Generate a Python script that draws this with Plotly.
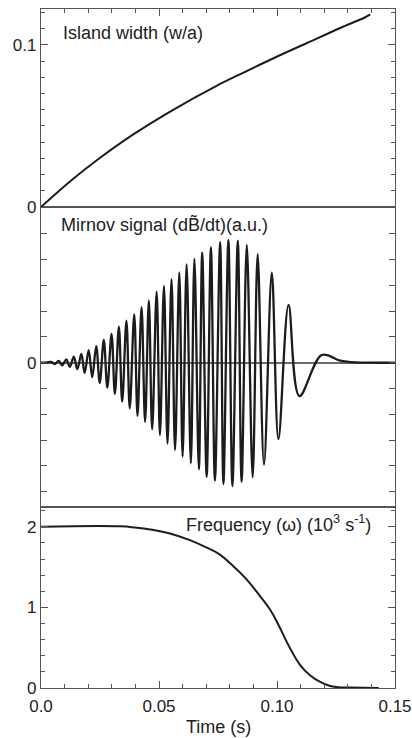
import plotly.graph_objects as go

# ---------------- data ----------------
# Island width (w/a) vs time (s)
island_t = [0.0, 0.0129, 0.0249, 0.0391, 0.0560, 0.0744, 0.0843, 0.0985, 0.1127, 0.1268, 0.1374, 0.1395]
island_w = [0.0, 0.0165, 0.0302, 0.0448, 0.0600, 0.0748, 0.0819, 0.0918, 0.1012, 0.1105, 0.1171, 0.1189]

# Mirnov signal extrema (a.u.) vs time (s)
mirnov_t = [0.0, 0.0024, 0.0043, 0.0058, 0.0075, 0.0090, 0.0107, 0.0122, 0.0139, 0.0154,
            0.0171, 0.0185, 0.0202, 0.0217, 0.0234, 0.0249, 0.0266, 0.0281, 0.0299, 0.0313,
            0.0330, 0.0344, 0.0362, 0.0376, 0.0395, 0.0409, 0.0426, 0.0441, 0.0457, 0.0471,
            0.0490, 0.0504, 0.0521, 0.0536, 0.0553, 0.0568, 0.0586, 0.0600, 0.0617, 0.0635,
            0.0650, 0.0669, 0.0683, 0.0702, 0.0720, 0.0737, 0.0759, 0.0773, 0.0794, 0.0811,
            0.0834, 0.0850, 0.0872, 0.0897, 0.0918, 0.0945, 0.0978, 0.1006, 0.1049, 0.1095,
            0.1190, 0.1268, 0.1332, 0.1400, 0.1500]
mirnov_v = [0.0, 0.01, 0.03, -0.05, 0.07, -0.10, 0.13, -0.16, 0.23, -0.25,
            0.34, -0.40, 0.49, -0.56, 0.64, -0.78, 0.88, -0.96, 1.12, -1.21,
            1.40, -1.51, 1.63, -1.77, 1.87, -2.06, 2.15, -2.29, 2.40, -2.58,
            2.75, -2.80, 2.97, -3.13, 3.24, -3.38, 3.50, -3.64, 3.81, -3.90,
            4.02, -4.13, 4.26, -4.42, 4.47, -4.57, 4.67, -4.70, 4.76, -4.78,
            4.73, -4.61, 4.56, -4.44, 4.20, -3.95, 3.49, -2.96, 2.24, -1.29,
            0.30, 0.08, 0.01, 0.0, 0.0]

# Frequency (10^3 s^-1) vs time (s)
freq_t = [0.0, 0.0335, 0.0400, 0.0462, 0.0546, 0.0631, 0.0700, 0.0758, 0.0815, 0.0872,
          0.0928, 0.0971, 0.1006, 0.1034, 0.1063, 0.1098, 0.1141, 0.1183, 0.1225, 0.1260,
          0.1310, 0.1431]
freq_v = [2.0, 2.005, 1.99, 1.967, 1.917, 1.835, 1.745, 1.655, 1.51, 1.345,
          1.14, 0.97, 0.785, 0.615, 0.452, 0.284, 0.155, 0.075, 0.024, 0.010,
          0.005, 0.0]

x_tickvals = [0.0, 0.05, 0.10, 0.15]
x_ticktext = ["0.0", "0.05", "0.10", "0.15"]
mirnov_tickvals = [-5, -4, -3, -2, -1, 0, 1, 2, 3, 4, 5]
mirnov_ticktext = ["", "", "", "", "", "0", "", "", "", "", ""]

# ---------------- style ----------------
FONT = "Liberation Sans, Arial, sans-serif"
LINE_C = "#1c1c1c"
FRAME_C = "#555555"
TXT_C = "#222222"

fig = go.Figure()
fig.add_trace(go.Scatter(x=island_t, y=island_w, mode="lines", xaxis="x3", yaxis="y3",
                         line=dict(color=LINE_C, width=2, shape="spline", smoothing=1.0),
                         showlegend=False, hoverinfo="skip"))
fig.add_trace(go.Scatter(x=mirnov_t, y=mirnov_v, mode="lines", xaxis="x2", yaxis="y2",
                         line=dict(color=LINE_C, width=2.3, shape="spline", smoothing=1.0),
                         showlegend=False, hoverinfo="skip"))
fig.add_trace(go.Scatter(x=freq_t, y=freq_v, mode="lines", xaxis="x", yaxis="y",
                         line=dict(color=LINE_C, width=2, shape="spline", smoothing=1.2),
                         showlegend=False, hoverinfo="skip"))

d_bot = (0.0, 0.2669)
d_mid = (0.2669, 0.7084)
d_top = (0.7084, 1.0)

common_x = dict(range=[0, 0.15], showline=True, linecolor=FRAME_C, linewidth=1.3,
                mirror=True, showgrid=False, zeroline=False, automargin=False)
tickfont = dict(family=FONT, size=17, color=TXT_C)

fig.update_layout(
    template="none",
    width=412, height=738,
    margin=dict(l=41.33, r=17.33, t=9, b=50.1, autoexpand=False),
    paper_bgcolor="white", plot_bgcolor="white",
    font=dict(family=FONT, size=17, color=TXT_C),
    xaxis=dict(**common_x, anchor="y", tickvals=x_tickvals, ticktext=x_ticktext,
               ticks="inside", ticklen=7, tickcolor=FRAME_C, tickwidth=1.2,
               minor=dict(dtick=0.01, ticks="inside", ticklen=4, tickcolor=FRAME_C),
               tickfont=tickfont, ticklabelstandoff=2),
    xaxis2=dict(**common_x, anchor="y2", matches="x", ticks="", showticklabels=False),
    xaxis3=dict(**common_x, anchor="y3", matches="x", side="top", tickvals=x_tickvals,
                ticks="inside", ticklen=7, tickcolor=FRAME_C, tickwidth=1.2, showticklabels=False,
                minor=dict(dtick=0.01, ticks="inside", ticklen=4, tickcolor=FRAME_C)),
    yaxis=dict(domain=list(d_bot), anchor="x", range=[0, 2.248], tickvals=[0, 1, 2],
               showline=True, linecolor=FRAME_C, linewidth=1.3, mirror="ticks",
               ticks="inside", ticklen=7, tickcolor=FRAME_C, tickwidth=1.2,
               minor=dict(dtick=0.2, ticks="inside", ticklen=4, tickcolor=FRAME_C),
               showgrid=False, zeroline=False, tickfont=tickfont, automargin=False),
    yaxis2=dict(domain=list(d_mid), anchor="x2", range=[-5.58, 6.03],
                tickvals=mirnov_tickvals, ticktext=mirnov_ticktext,
                showline=True, linecolor=FRAME_C, linewidth=1.3, mirror="ticks",
                ticks="inside", ticklen=6, tickcolor=FRAME_C, tickwidth=1.2,
                showgrid=False, zeroline=True, zerolinecolor="#6a6a6a", zerolinewidth=1.5,
                tickfont=tickfont, automargin=False),
    yaxis3=dict(domain=list(d_top), anchor="x3", range=[0, 0.1222], tickvals=[0, 0.1],
                ticktext=["0", "0.1"],
                showline=True, linecolor=FRAME_C, linewidth=1.3, mirror="ticks",
                ticks="inside", ticklen=7, tickcolor=FRAME_C, tickwidth=1.2,
                minor=dict(dtick=0.01, ticks="inside", ticklen=4, tickcolor=FRAME_C),
                showgrid=False, zeroline=False, tickfont=tickfont, automargin=False),
)

ann_font = dict(family=FONT, size=18, color=TXT_C)
fig.add_annotation(text="Island width (w/a)", xref="x3 domain", yref="y3 domain",
                   x=0.0577, y=0.880, xanchor="left", yanchor="middle", showarrow=False, font=ann_font)
fig.add_annotation(text="Mirnov signal (dB\u0303/dt)(a.u.)", xref="x2 domain", yref="y2 domain",
                   x=0.051, y=0.943, xanchor="left", yanchor="middle", showarrow=False, font=ann_font)
fig.add_annotation(text="Frequency (\u03c9) (10<sup>3</sup> s<sup>-1</sup>)", xref="x domain", yref="y domain",
                   x=0.938, y=0.908, xanchor="right", yanchor="middle", showarrow=False, font=ann_font)
fig.add_annotation(text="Time (s)", xref="paper", yref="paper", x=0.5, y=-0.058,
                   xanchor="center", yanchor="middle", showarrow=False, font=ann_font)

fig.write_html("out.html", config={"displayModeBar": False},
               post_script="document.body.style.margin='0';document.body.style.overflow='hidden';")
